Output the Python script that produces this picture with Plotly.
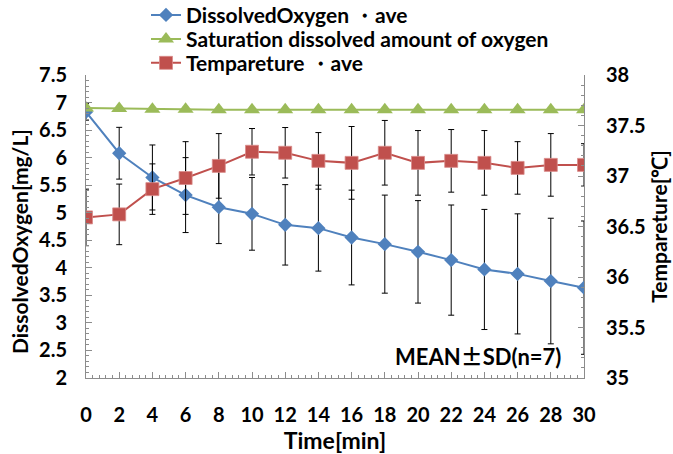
import plotly.graph_objects as go

# Sampling times [min]
time_min = [0, 2, 4, 6, 8, 10, 12, 14, 16, 18, 20, 22, 24, 26, 28, 30]

# Dissolved oxygen, mean and SD [mg/L]
do_ave = [6.83, 6.08, 5.64, 5.32, 5.10, 4.98, 4.78, 4.72, 4.55, 4.43,
          4.29, 4.14, 3.97, 3.89, 3.76, 3.64]
do_sd = [0.15, 0.47, 0.59, 0.68, 0.66, 0.66, 0.73, 0.78, 0.86, 0.89,
         0.93, 1.00, 1.09, 1.09, 1.14, 1.21]

# Saturation dissolved amount of oxygen [mg/L]
sat_do = [6.90, 6.89, 6.88, 6.88, 6.87, 6.87, 6.87, 6.87, 6.87, 6.87,
          6.87, 6.87, 6.87, 6.87, 6.87, 6.87]

# Temperature, mean and SD [°C]
temp_ave = [36.59, 36.62, 36.87, 36.98, 37.10, 37.24, 37.23, 37.15, 37.13, 37.23,
            37.13, 37.15, 37.13, 37.08, 37.11, 37.11]
temp_sd = [0.28, 0.30, 0.25, 0.36, 0.32, 0.23, 0.25, 0.28, 0.36, 0.32,
           0.32, 0.31, 0.32, 0.26, 0.31, 0.21]

x_ticks = list(range(0, 31, 2))
left_ticks = [2, 2.5, 3, 3.5, 4, 4.5, 5, 5.5, 6, 6.5, 7, 7.5]
right_ticks = [35, 35.5, 36, 36.5, 37, 37.5, 38]

BLUE = "#4F81BD"
GREEN = "#9BBB59"
RED = "#C0504D"
AXIS = "#8C8C8C"
FONT = "Lato"
CJK = "Noto Sans CJK JP"

err_style = dict(type="data", visible=True, color="black", thickness=1, width=3)

fig = go.Figure()

fig.add_trace(go.Scatter(
    x=time_min, y=do_ave, name="DissolvedOxygen ・ave",
    mode="lines+markers",
    line=dict(color=BLUE, width=2),
    marker=dict(symbol="diamond", size=11, color=BLUE),
    error_y=dict(array=do_sd, **err_style),
    yaxis="y", legend="legend",
))
fig.add_trace(go.Scatter(
    x=time_min, y=sat_do, name="Saturation dissolved amount of oxygen",
    mode="lines+markers",
    line=dict(color=GREEN, width=2),
    marker=dict(symbol="triangle-up", size=14, color=GREEN),
    yaxis="y", legend="legend2",
))
fig.add_trace(go.Scatter(
    x=time_min, y=temp_ave, name="Tempareture ・ave",
    mode="lines+markers",
    line=dict(color=RED, width=2),
    marker=dict(symbol="square", size=13, color=RED,
                line=dict(color="#D98C8A", width=0.8)),
    error_y=dict(array=temp_sd, **err_style),
    yaxis="y2", legend="legend3",
))

tick_font = dict(family=FONT, size=20, color="black", weight="bold")
legend_font = dict(family=FONT, size=21, color="black", weight="bold")


def legend_row(y):
    # one legend entry per row, stacked in the top margin
    return dict(
        xref="paper", yref="paper",
        x=0.1205, y=y, xanchor="left", yanchor="middle",
        bgcolor="rgba(0,0,0,0)", font=legend_font,
    )


fig.update_layout(
    width=673, height=454,
    margin=dict(l=86, r=89, t=75, b=76, autoexpand=False),
    paper_bgcolor="white", plot_bgcolor="white",
    font=dict(family=FONT, color="black"),
    showlegend=True,
    legend=legend_row(1.197),
    legend2=legend_row(1.118),
    legend3=legend_row(1.039),
    xaxis=dict(
        range=[0, 30], tickvals=x_ticks, ticktext=[str(v) for v in x_ticks],
        showgrid=False, zeroline=False,
        showline=True, linecolor=AXIS, linewidth=1,
        ticks="inside", ticklen=6, tickcolor=AXIS,
        minor=dict(ticks="inside", ticklen=3, dtick=0.4, tickcolor=AXIS, showgrid=False),
        tickfont=tick_font, ticklabelstandoff=19,
        title=dict(text="Time[min]", font=dict(family=FONT, size=23, color="black", weight="bold"), standoff=0),
    ),
    yaxis=dict(
        range=[2, 7.5], tickvals=left_ticks,
        ticktext=[f"{v:g}" for v in left_ticks],
        showgrid=False, zeroline=False,
        showline=True, linecolor=AXIS, linewidth=1,
        ticks="inside", ticklen=6, tickcolor=AXIS,
        minor=dict(ticks="inside", ticklen=3, dtick=0.1, tickcolor=AXIS, showgrid=False),
        tickfont=tick_font, ticklabelstandoff=14,
    ),
    yaxis2=dict(
        range=[35, 38], tickvals=right_ticks,
        ticktext=[f"{v:g}" for v in right_ticks],
        overlaying="y", side="right", anchor="x",
        showgrid=False, zeroline=False,
        showline=True, linecolor=AXIS, linewidth=1,
        ticks="inside", ticklen=6, tickcolor=AXIS,
        minor=dict(ticks="inside", ticklen=3, dtick=0.1, tickcolor=AXIS, showgrid=False),
        tickfont=tick_font, ticklabelstandoff=17,
        title=dict(text="Tempareture[℃]", font=dict(family=FONT, size=21, color="black", weight="bold"), standoff=4),
    ),
    annotations=[
        dict(
            text="DissolvedOxygen[mg/L]", xref="paper", yref="paper",
            x=-0.133, y=0.451, xanchor="center", yanchor="middle",
            textangle=-90, showarrow=False,
            font=dict(family=FONT, size=21, color="black", weight="bold"),
        ),
        dict(
            text=f"MEAN<span style=\"font-family:{CJK}\">±</span>SD(n=7)",
            xref="paper", yref="paper",
            x=0.958, y=0.076, xanchor="right", yanchor="middle",
            showarrow=False,
            font=dict(family=FONT, size=22, color="black", weight="bold"),
        ),
    ],
)

fig.write_html("out.html")
